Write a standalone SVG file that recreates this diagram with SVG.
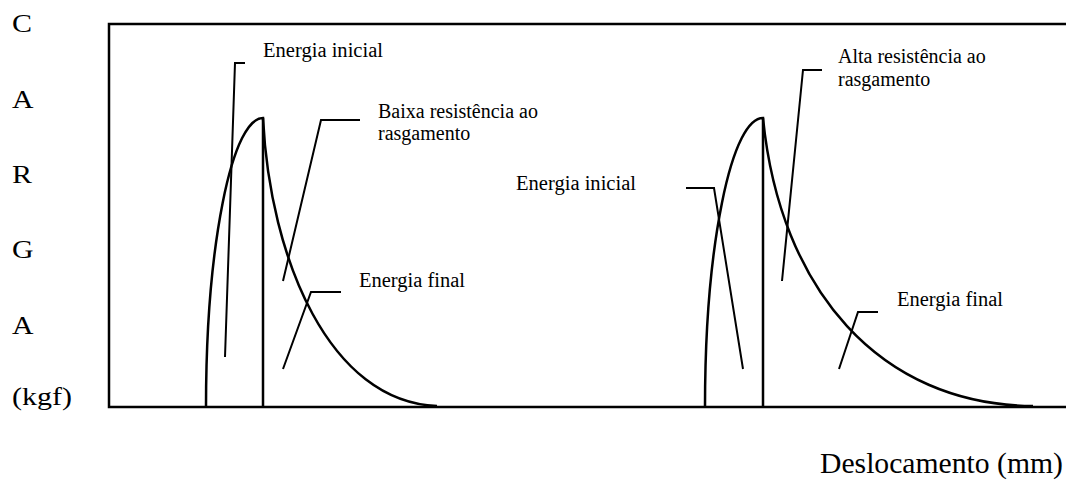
<svg xmlns="http://www.w3.org/2000/svg" width="1066" height="490" viewBox="0 0 1066 490">
<style>
.cv{fill:none;stroke:#000;stroke-width:2.5}
.ld{fill:none;stroke:#000;stroke-width:2}
</style>
<rect width="1066" height="490" fill="#fff"/>
<g font-family="Liberation Serif, Times New Roman, DejaVu Serif, serif" fill="#000">
<g id="axis-y-label" font-size="26" lengthAdjust="spacingAndGlyphs">
<text x="12" y="32" textLength="20" lengthAdjust="spacingAndGlyphs">C</text>
<text x="12" y="108" textLength="21.5" lengthAdjust="spacingAndGlyphs">A</text>
<text x="12" y="183" textLength="20" lengthAdjust="spacingAndGlyphs">R</text>
<text x="12" y="258" textLength="21.5" lengthAdjust="spacingAndGlyphs">G</text>
<text x="12" y="334" textLength="21.5" lengthAdjust="spacingAndGlyphs">A</text>
<text x="12" y="405" textLength="60" lengthAdjust="spacingAndGlyphs">(kgf)</text>
</g>
<g id="axis-x-label">
<text x="820" y="473" font-size="29" textLength="243" lengthAdjust="spacingAndGlyphs">Deslocamento (mm)</text>
</g>
<g font-size="20">
<g id="label-left-inicial"><text x="263" y="57" textLength="120" lengthAdjust="spacingAndGlyphs">Energia inicial</text></g>
<g id="label-left-baixa"><text x="378" y="118">Baixa resistência ao</text><text x="378" y="140">rasgamento</text></g>
<g id="label-left-final"><text x="359" y="287" textLength="106" lengthAdjust="spacingAndGlyphs">Energia final</text></g>
<g id="label-right-inicial"><text x="516" y="190" textLength="120" lengthAdjust="spacingAndGlyphs">Energia inicial</text></g>
<g id="label-right-alta"><text x="838" y="63">Alta resistência ao</text><text x="838" y="86">rasgamento</text></g>
<g id="label-right-final"><text x="897" y="306" textLength="106" lengthAdjust="spacingAndGlyphs">Energia final</text></g>
</g>
</g>
<g id="frame">
<path class="cv" d="M1070,24 H109 V407 H1070"/>
</g>
<g id="curve-left">
<path class="cv" d="M206,407 A57,289 0 0 1 263,118 V407"/>
<path class="cv" d="M263,118 C270,260 330,402 437,406"/>
</g>
<g id="curve-right">
<path class="cv" d="M705,407 A58,289 0 0 1 763,118 V407"/>
<path class="cv" d="M763,118 C780,290 880,405 1033,406"/>
</g>
<g id="connectors">
<path class="ld" d="M245,63 H235 L225,357"/>
<path class="ld" d="M360,120 H321 L283,281"/>
<path class="ld" d="M341,292 H311 L283,369"/>
<path class="ld" d="M686,188 H714 L743,369"/>
<path class="ld" d="M822,70 H803 L782,281"/>
<path class="ld" d="M878,312 H858 L839,369"/>
</g>
</svg>
